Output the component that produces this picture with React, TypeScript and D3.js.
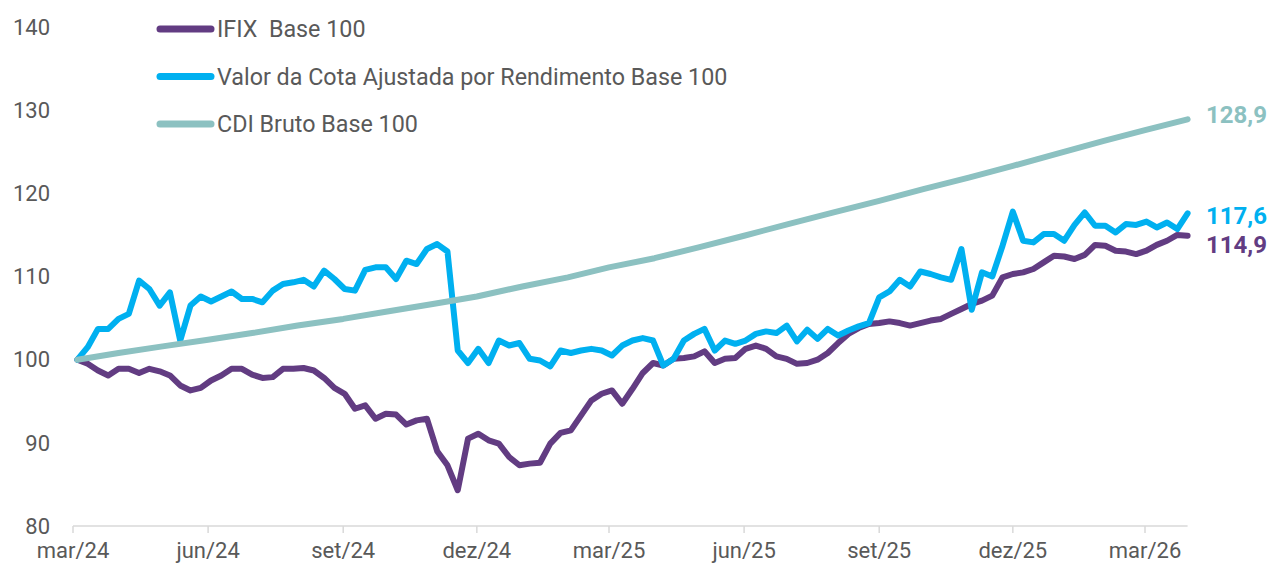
import * as d3 from 'd3';

const W = 1274;
const H = 566;

// weekly closes, starting 04/03/2024
const weekStart = new Date(2024, 2, 4);
const weeks = d3.range(109).map(i => d3.timeDay.offset(weekStart, 7 * i));

const ifix = [
  100.0, 99.5, 98.7, 98.1, 98.9, 98.9, 98.4, 98.9, 98.6, 98.1,
  96.9, 96.3, 96.6, 97.5, 98.1, 98.9, 98.9, 98.2, 97.8, 97.9,
  98.9, 98.9, 99.0, 98.7, 97.8, 96.6, 95.9, 94.1, 94.5, 92.9,
  93.5, 93.4, 92.2, 92.7, 92.9, 89.0, 87.3, 84.3, 90.5, 91.1,
  90.3, 89.9, 88.3, 87.3, 87.5, 87.6, 89.9, 91.2, 91.5, 93.3,
  95.1, 95.9, 96.3, 94.7, 96.5, 98.4, 99.6, 99.3, 100.1, 100.2,
  100.4, 101.0, 99.6, 100.1, 100.2, 101.3, 101.7, 101.3, 100.4, 100.1,
  99.5, 99.6, 100.0, 100.8, 102.0, 103.1, 103.8, 104.3, 104.4, 104.6,
  104.4, 104.1, 104.4, 104.7, 104.9, 105.5, 106.1, 106.7, 107.1, 107.7,
  109.9, 110.3, 110.5, 110.9, 111.7, 112.5, 112.4, 112.1, 112.6, 113.8,
  113.7, 113.1, 113.0, 112.7, 113.1, 113.8, 114.3, 115.0, 114.9,
];

const cota = [
  100.0, 101.5, 103.7, 103.7, 104.9, 105.5, 109.5, 108.5, 106.5, 108.1,
  102.3, 106.5, 107.6, 107.0, 107.6, 108.2, 107.3, 107.3, 106.9, 108.3,
  109.1, 109.3, 109.6, 108.8, 110.7, 109.7, 108.5, 108.3, 110.8, 111.1,
  111.1, 109.7, 111.9, 111.5, 113.3, 113.9, 113.0, 101.1, 99.6, 101.3,
  99.6, 102.3, 101.7, 102.0, 100.1, 99.9, 99.2, 101.1, 100.8, 101.1,
  101.3, 101.1, 100.5, 101.7, 102.3, 102.6, 102.3, 99.3, 100.1, 102.3,
  103.1, 103.7, 101.1, 102.3, 101.9, 102.3, 103.1, 103.4, 103.2, 104.1,
  102.2, 103.6, 102.5, 103.7, 102.9, 103.5, 104.0, 104.4, 107.5, 108.2,
  109.6, 108.8, 110.6, 110.3, 109.9, 109.6, 113.3, 106.0, 110.5, 110.0,
  113.7, 117.8, 114.3, 114.1, 115.1, 115.1, 114.3, 116.2, 117.7, 116.1,
  116.1, 115.3, 116.3, 116.2, 116.6, 115.9, 116.5, 115.7, 117.6,
];

const cdiDates = [
  '2024-03-04', '2024-04-01', '2024-05-01', '2024-06-01', '2024-07-01', '2024-08-01',
  '2024-09-01', '2024-10-01', '2024-11-01', '2024-12-01', '2025-01-01', '2025-02-01',
  '2025-03-01', '2025-04-01', '2025-05-01', '2025-06-01', '2025-07-01', '2025-08-01',
  '2025-09-01', '2025-10-01', '2025-11-01', '2025-12-01', '2026-01-01', '2026-02-01',
  '2026-03-01', '2026-03-30',
];
const cdi = [
  100.0, 100.8, 101.6, 102.4, 103.2, 104.1, 104.9, 105.8, 106.7, 107.6,
  108.8, 109.9, 111.1, 112.2, 113.5, 114.9, 116.3, 117.7, 119.1, 120.5,
  121.9, 123.3, 124.8, 126.3, 127.6, 128.9,
];

const tickDates = ['2024-03-01', '2024-06-01', '2024-09-01', '2024-12-01', '2025-03-01',
  '2025-06-01', '2025-09-01', '2025-12-01', '2026-03-01'];
const tickLabels = ['mar/24', 'jun/24', 'set/24', 'dez/24', 'mar/25', 'jun/25', 'set/25', 'dez/25', 'mar/26'];
const yTicks = [80, 90, 100, 110, 120, 130, 140];

const legend = [
  { name: 'IFIX  Base 100', color: '#623c82' },
  { name: 'Valor da Cota Ajustada por Rendimento Base 100', color: '#00b0f0' },
  { name: 'CDI Bruto Base 100', color: '#8cc1c1' },
];

const parse = d3.timeParse('%Y-%m-%d');
const x = d3.scaleTime([parse('2024-03-01')!, parse('2026-03-01')!], [73, 1145]);
const y = d3.scaleLinear([80, 140], [526, 27]);

const FONT = 'Roboto, "Noto Sans", sans-serif';
const GREY = '#595959';

export default function App() {
  const line = d3.line<[Date, number]>().x(d => x(d[0])).y(d => y(d[1])).curve(d3.curveLinear);
  const ifixPts = weeks.map((d, i) => [d, ifix[i]] as [Date, number]);
  const cotaPts = weeks.map((d, i) => [d, cota[i]] as [Date, number]);
  const cdiPts = cdiDates.map((d, i) => [parse(d)!, cdi[i]] as [Date, number]);
  const xEnd = x(weeks[weeks.length - 1]);

  // last values, nudged apart so the two lower labels don't collide
  const ends = [
    { v: cdi[cdi.length - 1], color: '#8cc1c1', nudge: -5 },
    { v: cota[cota.length - 1], color: '#00b0f0', nudge: 2 },
    { v: ifix[ifix.length - 1], color: '#623c82', nudge: 9 },
  ];

  return (
    <svg width={W} height={H} style={{ position: 'absolute', left: 0, top: 0, background: '#fff' }}
      fontFamily={FONT}>
      {/* y labels */}
      {yTicks.map(t => (
        <text key={t} x={50} y={y(t)} dy="0.35em" textAnchor="end" fontSize={22} fill={GREY}>{t}</text>
      ))}

      {/* x axis */}
      <line x1={73} x2={xEnd} y1={526} y2={526} stroke="#d9d9d9" strokeWidth={1.5} />
      {tickDates.map((d, i) => {
        const tx = x(parse(d)!);
        return (
          <g key={d}>
            <line x1={tx} x2={tx} y1={526} y2={533} stroke="#d9d9d9" strokeWidth={1.5} />
            <text x={tx} y={558} textAnchor="middle" fontSize={22} fill={GREY}>{tickLabels[i]}</text>
          </g>
        );
      })}

      {/* series */}
      <path d={line(ifixPts)!} fill="none" stroke="#623c82" strokeWidth={6} strokeLinejoin="round" strokeLinecap="round" />
      <path d={line(cotaPts)!} fill="none" stroke="#00b0f0" strokeWidth={6} strokeLinejoin="round" strokeLinecap="round" />
      <path d={line(cdiPts)!} fill="none" stroke="#8cc1c1" strokeWidth={6} strokeLinejoin="round" strokeLinecap="round" />

      {/* end labels */}
      {ends.map(e => (
        <text key={e.color} x={1206} y={y(e.v) + e.nudge} dy="0.35em" fontSize={24} fontWeight={700} fill={e.color}>
          {e.v.toFixed(1).replace('.', ',')}
        </text>
      ))}

      {/* legend */}
      {legend.map((l, i) => (
        <g key={l.name} transform={`translate(0, ${29 + i * 47.5})`}>
          <line x1={160} x2={211} y1={0} y2={0} stroke={l.color} strokeWidth={7} strokeLinecap="round" />
          <text x={217} y={0} dy="0.35em" fontSize={23.3} fill={GREY} style={{ whiteSpace: 'pre' }}>{l.name}</text>
        </g>
      ))}
    </svg>
  );
}
